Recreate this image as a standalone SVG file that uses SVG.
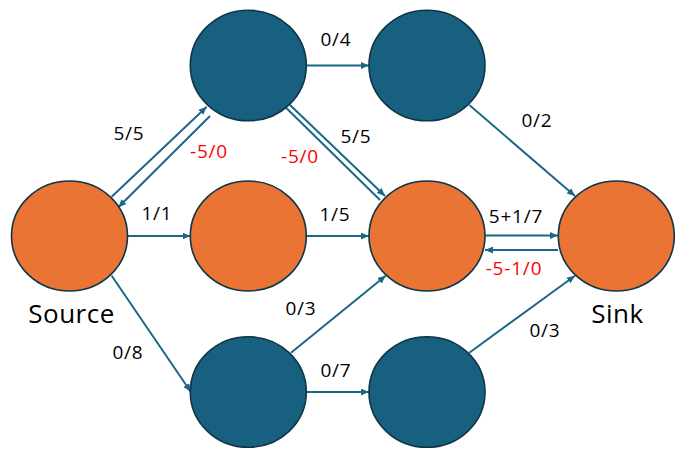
<svg xmlns="http://www.w3.org/2000/svg" width="682" height="461" viewBox="0 0 682 461">
<style>
.blue{fill:#17607F;stroke:#0E3549;stroke-width:1.6}
.orange{fill:#EA7434;stroke:#0E3549;stroke-width:1.6}
.e{stroke:#1C6788;stroke-width:2;fill:none}
.a{marker-end:url(#arr)}
.lbl{font-family:"Open Sans","Noto Sans",sans-serif;font-size:19px;letter-spacing:0.8px;fill:#000;text-anchor:middle}
.red{fill:#FF0000}
.big{font-family:"Open Sans","Noto Sans",sans-serif;font-size:26px;letter-spacing:0.5px;fill:#000;text-anchor:middle}
</style>
<defs>
<marker id="arr" markerUnits="userSpaceOnUse" markerWidth="9" markerHeight="8" refX="8" refY="3.5" orient="auto">
<path d="M0,0 L8,3.5 L0,7 z" fill="#1C6788"/>
</marker>
</defs>
<rect width="682" height="461" fill="#FFFFFF"/>
<g id="connectors">
<line class="e a" x1="306" y1="65.5" x2="369" y2="65.5"/>
<line class="e a" x1="111.7" y1="196.7" x2="206.7" y2="106.7"/>
<line class="e a" x1="210" y1="116" x2="118.3" y2="207.3"/>
<line class="e a" x1="290" y1="105" x2="385" y2="196"/>
<line class="e" x1="285" y1="106.7" x2="380" y2="200"/>
<line class="e a" x1="469.3" y1="105" x2="575" y2="196"/>
<line class="e a" x1="127.5" y1="236" x2="190.5" y2="236"/>
<line class="e a" x1="306" y1="236" x2="369" y2="236"/>
<line class="e a" x1="485" y1="235.5" x2="558" y2="235.5"/>
<line class="e a" x1="558" y1="250" x2="485" y2="250"/>
<line class="e a" x1="111.7" y1="275.7" x2="190.7" y2="391.7"/>
<line class="e a" x1="291" y1="352.7" x2="385.7" y2="275.7"/>
<line class="e a" x1="306" y1="392" x2="369" y2="392"/>
<line class="e a" x1="469.3" y1="352.7" x2="575" y2="275.7"/>
<text class="lbl" x="336" y="46">0/4</text>
<text class="lbl" x="129" y="140">5/5</text>
<text class="lbl red" x="209" y="158">-5/0</text>
<text class="lbl" x="356" y="143">5/5</text>
<text class="lbl red" x="300" y="162.5">-5/0</text>
<text class="lbl" x="537" y="126.5">0/2</text>
<text class="lbl" x="157" y="220">1/1</text>
<text class="lbl" x="335" y="221">1/5</text>
<text class="lbl" x="516" y="222.5">5+1/7</text>
<text class="lbl red" x="514" y="275">-5-1/0</text>
<text class="lbl" x="128" y="359">0/8</text>
<text class="lbl" x="301" y="315">0/3</text>
<text class="lbl" x="336" y="377">0/7</text>
<text class="lbl" x="545" y="337">0/3</text>
</g>
<g id="n-source"><ellipse class="orange" cx="69.5" cy="236" rx="58" ry="55"/><text class="big" x="71.5" y="322.5">Source</text></g>
<g id="n-tl"><ellipse class="blue" cx="248.3" cy="65.5" rx="58" ry="55.3"/></g>
<g id="n-tr"><ellipse class="blue" cx="427" cy="65.5" rx="58" ry="55.3"/></g>
<g id="n-mid"><ellipse class="orange" cx="248.3" cy="236" rx="58" ry="55"/></g>
<g id="n-center"><ellipse class="orange" cx="427" cy="236" rx="58" ry="55"/></g>
<g id="n-sink"><ellipse class="orange" cx="616.3" cy="236" rx="58" ry="55"/><text class="big" x="617.5" y="322.5">Sink</text></g>
<g id="n-bl"><ellipse class="blue" cx="248.3" cy="392" rx="58" ry="55.3"/></g>
<g id="n-br"><ellipse class="blue" cx="427" cy="392" rx="58" ry="55.3"/></g>
</svg>
